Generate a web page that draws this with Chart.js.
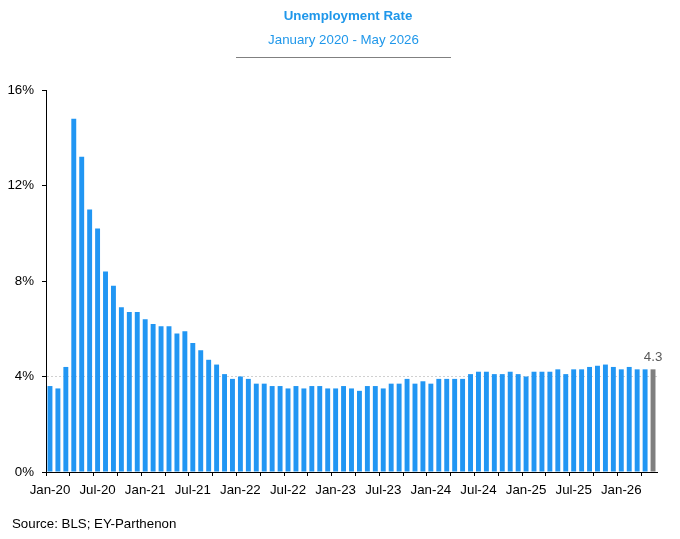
<!DOCTYPE html>
<html>
<head>
<meta charset="utf-8">
<script src="https://cdn.jsdelivr.net/npm/chart.js@4/dist/chart.umd.min.js"></script>
<style>
  html, body { margin: 0; padding: 0; background: #fff; }
  #wrap { width: 680px; height: 539px; }
</style>
</head>
<body>
<div id="wrap"><canvas id="unemploymentChart" width="680" height="539"></canvas></div>
<script>
// Monthly unemployment rate, Jan 2020 - May 2026
const years = ['20', '21', '22', '23', '24', '25', '26'];
const monthNames = ['Jan', 'Feb', 'Mar', 'Apr', 'May', 'Jun', 'Jul', 'Aug', 'Sep', 'Oct', 'Nov', 'Dec'];

const rate2020 = [3.6, 3.5, 4.4, 14.8, 13.2, 11.0, 10.2, 8.4, 7.8, 6.9, 6.7, 6.7];
const rate2021 = [6.4, 6.2, 6.1, 6.1, 5.8, 5.9, 5.4, 5.1, 4.7, 4.5, 4.1, 3.9];
const rate2022 = [4.0, 3.9, 3.7, 3.7, 3.6, 3.6, 3.5, 3.6, 3.5, 3.6, 3.6, 3.5];
const rate2023 = [3.5, 3.6, 3.5, 3.4, 3.6, 3.6, 3.5, 3.7, 3.7, 3.9, 3.7, 3.8];
const rate2024 = [3.7, 3.9, 3.9, 3.9, 3.9, 4.1, 4.2, 4.2, 4.1, 4.1, 4.2, 4.1];
const rate2025 = [4.0, 4.2, 4.2, 4.2, 4.3, 4.1, 4.3, 4.3, 4.4, 4.45, 4.5, 4.4];
const rate2026 = [4.3, 4.4, 4.3, 4.3, 4.3];

const yTicks = [0, 4, 8, 12, 16];
const lastLabel = '4.3';
const titleText = 'Unemployment Rate';
const subtitleText = 'January 2020 - May 2026';
const sourceText = 'Source: BLS; EY-Parthenon';

const values = [].concat(rate2020, rate2021, rate2022, rate2023, rate2024, rate2025, rate2026);
const labels = values.map((v, i) => monthNames[i % 12] + '-' + years[Math.floor(i / 12)]);

const BLUE = '#2196F3';
const GREY = '#7F7F7F';
const TITLE_BLUE = '#1F97EA';
const FONT = "'Liberation Sans', Arial, sans-serif";

// Titles, the rule under them, the value over the last bar and the source line
const extras = {
    id: 'extras',
    afterDatasetsDraw(chart) {
        const ctx = chart.ctx;
        const meta = chart.getDatasetMeta(0);
        const bar = meta.data[meta.data.length - 1];
        ctx.save();
        ctx.font = '13.3px ' + FONT;
        ctx.fillStyle = '#595959';
        ctx.textAlign = 'center';
        ctx.textBaseline = 'alphabetic';
        ctx.fillText(lastLabel, bar.x, bar.y - 8);
        ctx.restore();
    },
    afterDraw(chart) {
        const ctx = chart.ctx;
        ctx.save();
        ctx.textAlign = 'center';
        ctx.textBaseline = 'middle';
        ctx.fillStyle = TITLE_BLUE;
        ctx.font = 'bold 13.3px ' + FONT;
        ctx.fillText(titleText, 348, 16);
        ctx.font = '13.3px ' + FONT;
        ctx.fillText(subtitleText, 343.5, 40.5);

        ctx.strokeStyle = '#808080';
        ctx.lineWidth = 1;
        ctx.beginPath();
        ctx.moveTo(236, 57.5);
        ctx.lineTo(451, 57.5);
        ctx.stroke();

        ctx.font = '13.3px ' + FONT;
        ctx.fillStyle = '#000';
        ctx.textAlign = 'left';
        ctx.fillText(sourceText, 12, 524);
        ctx.restore();
    }
};

const ctx = document.getElementById('unemploymentChart').getContext('2d');
new Chart(ctx, {
    type: 'bar',
    data: {
        labels: labels,
        datasets: [{
            label: 'Unemployment rate',
            data: values,
            backgroundColor: values.map((v, i) => i === values.length - 1 ? GREY : BLUE),
            borderWidth: 0,
            barPercentage: 0.62,
            categoryPercentage: 1.0
        }]
    },
    options: {
        responsive: false,
        animation: false,
        layout: { padding: { left: 0, right: 23, top: 90, bottom: 39 } },
        plugins: {
            legend: { display: false },
            tooltip: { enabled: false }
        },
        scales: {
            x: {
                offset: true,
                grid: {
                    offset: true,
                    drawOnChartArea: false,
                    tickLength: 4,
                    tickWidth: 1,
                    tickColor: (c) => (c.index % 3 === 0 ? '#000' : 'rgba(0,0,0,0)')
                },
                border: { color: '#000', width: 1 },
                ticks: {
                    autoSkip: false,
                    maxRotation: 0,
                    minRotation: 0,
                    padding: 6,
                    color: '#000',
                    font: { family: FONT, size: 13.3 },
                    callback: (value, index) => (index % 6 === 0 ? labels[index] : '')
                },
                afterFit: (scale) => { scale.height = 28; }
            },
            y: {
                min: 0,
                max: 16,
                afterBuildTicks: (scale) => { scale.ticks = yTicks.map(v => ({ value: v })); },
                grid: {
                    color: (c) => (c.tick && c.tick.value === 4 ? '#D0D0D0' : 'rgba(0,0,0,0)'),
                    tickColor: '#000',
                    tickWidth: 1,
                    tickLength: 4
                },
                border: { color: '#000', width: 1, dash: [2, 2] },
                ticks: {
                    padding: 8,
                    color: '#000',
                    font: { family: FONT, size: 13.3 },
                    callback: (value) => value + '%'
                },
                afterFit: (scale) => { scale.width = 46; }
            }
        }
    },
    plugins: [extras]
});
</script>
</body>
</html>
